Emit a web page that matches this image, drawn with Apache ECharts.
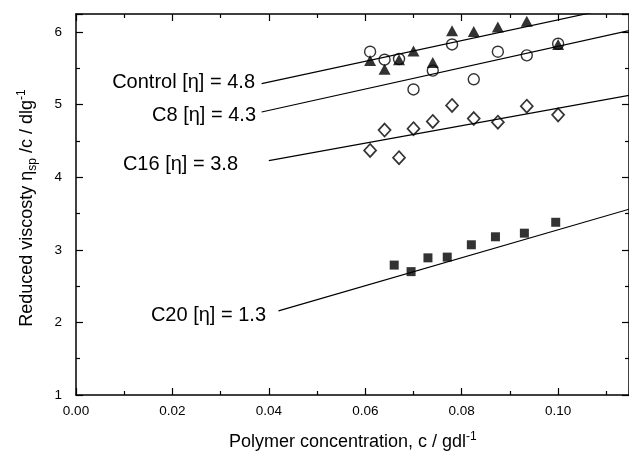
<!DOCTYPE html>
<html>
<head>
<meta charset="utf-8">
<script src="https://cdn.jsdelivr.net/npm/echarts@6/dist/echarts.min.js"></script>
<style>
html,body{margin:0;padding:0;background:#fff;}
#chart{width:629px;height:459px;}
</style>
</head>
<body>
<div id="chart"></div>
<script>
// Data
const concTop = [0.061, 0.064, 0.067, 0.070, 0.074, 0.078, 0.0825, 0.0875, 0.0935, 0.100];
const viscControl = [5.61, 5.49, 5.62, 5.74, 5.58, 6.02, 6.01, 6.07, 6.15, 5.83];
const viscC8 = [5.73, 5.62, 5.63, 5.21, 5.47, 5.83, 5.35, 5.73, 5.68, 5.84];
const viscC16 = [4.37, 4.65, 4.27, 4.67, 4.77, 4.99, 4.81, 4.76, 4.98, 4.86];
const concC20 = [0.066, 0.0695, 0.073, 0.077, 0.082, 0.087, 0.093, 0.0995];
const viscC20 = [2.79, 2.70, 2.89, 2.90, 3.07, 3.18, 3.23, 3.38];

// Fitted lines: start/end concentration and values
const fitControl = [[0.0385, 5.29], [0.1147, 6.38]];
const fitC8 = [[0.0385, 4.90], [0.1147, 6.02]];
const fitC16 = [[0.040, 4.23], [0.1147, 5.13]];
const fitC20 = [[0.042, 2.16], [0.1147, 3.56]];

const lineLabels = ['Control [η] = 4.8', 'C8 [η] = 4.3', 'C16 [η] = 3.8', 'C20 [η] = 1.3'];
const xTicks = ['0.00', '0.02', '0.04', '0.06', '0.08', '0.10'];

const pairs = (xs, ys) => xs.map((x, i) => [x, ys[i]]);
const FONT = 'Liberation Sans, Arial, sans-serif';

const chart = echarts.init(document.getElementById('chart'), null, {renderer: 'canvas'});

const baseX = {
  type: 'value', min: 0, max: 0.1147, interval: 0.02,
  axisLine: {show: true, onZero: false, lineStyle: {color: '#000', width: 1.5}},
  axisTick: {show: true, inside: true, length: 7, lineStyle: {color: '#000', width: 1.2}},
  minorTick: {show: true, splitNumber: 2, length: 4, lineStyle: {color: '#000', width: 1.2}},
  splitLine: {show: false}, minorSplitLine: {show: false}
};
const baseY = {
  type: 'value', min: 1, max: 6.25, interval: 1,
  axisLine: {show: true, onZero: false, lineStyle: {color: '#000', width: 1.5}},
  axisTick: {show: true, inside: true, length: 7, lineStyle: {color: '#000', width: 1.2}},
  minorTick: {show: true, splitNumber: 2, length: 4, lineStyle: {color: '#000', width: 1.2}},
  splitLine: {show: false}, minorSplitLine: {show: false}
};

const fitLine = (pts) => ({
  type: 'line', data: pts, symbol: 'none', silent: true,
  lineStyle: {color: '#000', width: 1.2}, z: 1, clip: true
});

const label = (txt, rightX, centerY) => ({
  type: 'text', right: 629 - rightX, top: centerY - 11,
  style: {text: txt, font: '20px ' + FONT, fill: '#000'}
});

chart.setOption({
  animation: false,
  backgroundColor: '#fff',
  grid: {left: 76, top: 14, right: -3, bottom: 64, containLabel: false},
  xAxis: [
    Object.assign({}, baseX, {
      position: 'bottom',
      axisLabel: {show: true, margin: 9, color: '#000', fontSize: 13.5, fontFamily: FONT,
        showMaxLabel: false,
        formatter: (v) => { const i = Math.round(v / 0.02); return Math.abs(v - i * 0.02) < 1e-9 ? xTicks[i] : ''; }}
    }),
    Object.assign({}, baseX, {position: 'top', axisLabel: {show: false}})
  ],
  yAxis: [
    Object.assign({}, baseY, {
      position: 'left',
      axisLabel: {show: true, margin: 14, color: '#000', fontSize: 13.5, fontFamily: FONT, showMaxLabel: false}
    }),
    Object.assign({}, baseY, {position: 'right', axisLabel: {show: false}})
  ],
  series: [
    fitLine(fitControl), fitLine(fitC8), fitLine(fitC16), fitLine(fitC20),
    {type: 'scatter', name: 'C16', data: pairs(concTop, viscC16), symbol: 'diamond', symbolSize: [12, 13],
      itemStyle: {color: 'rgba(255,255,255,0)', borderColor: '#000', borderWidth: 1.7}, z: 3},
    {type: 'scatter', name: 'C8', data: pairs(concTop, viscC8), symbol: 'circle', symbolSize: 11,
      itemStyle: {color: 'rgba(255,255,255,0)', borderColor: '#000', borderWidth: 1.4}, z: 3},
    {type: 'scatter', name: 'Control', data: pairs(concTop, viscControl), symbol: 'triangle', symbolSize: [12, 11],
      itemStyle: {color: '#000'}, z: 4},
    {type: 'scatter', name: 'C20', data: pairs(concC20, viscC20), symbol: 'rect', symbolSize: 9,
      itemStyle: {color: '#000'}, z: 4}
  ],
  graphic: [
    label(lineLabels[0], 255, 83),
    label(lineLabels[1], 256, 116),
    label(lineLabels[2], 238, 165),
    label(lineLabels[3], 266, 316),
    {type: 'text', left: 229, top: 431,
      style: {
        text: '{a|Polymer concentration, c / gdl}{p|-1}',
        rich: {
          a: {font: '18px ' + FONT, fill: '#000', color: '#000'},
          p: {font: '12px ' + FONT, fill: '#000', color: '#000', padding: [0, 0, 10, 0]}
        }
      }},
    {type: 'text', x: 15, y: 208, rotation: Math.PI / 2,
      style: {
        text: '{a|Reduced viscosty η}{s|sp}{a| /c / dlg}{p|-1}',
        align: 'center', verticalAlign: 'top',
        rich: {
          a: {font: '18px ' + FONT, fill: '#000', color: '#000'},
          s: {font: '12px ' + FONT, fill: '#000', color: '#000', padding: [12, 0, 0, 0]},
          p: {font: '12px ' + FONT, fill: '#000', color: '#000', padding: [0, 0, 10, 0]}
        }
      }}
  ]
});
</script>
</body>
</html>
